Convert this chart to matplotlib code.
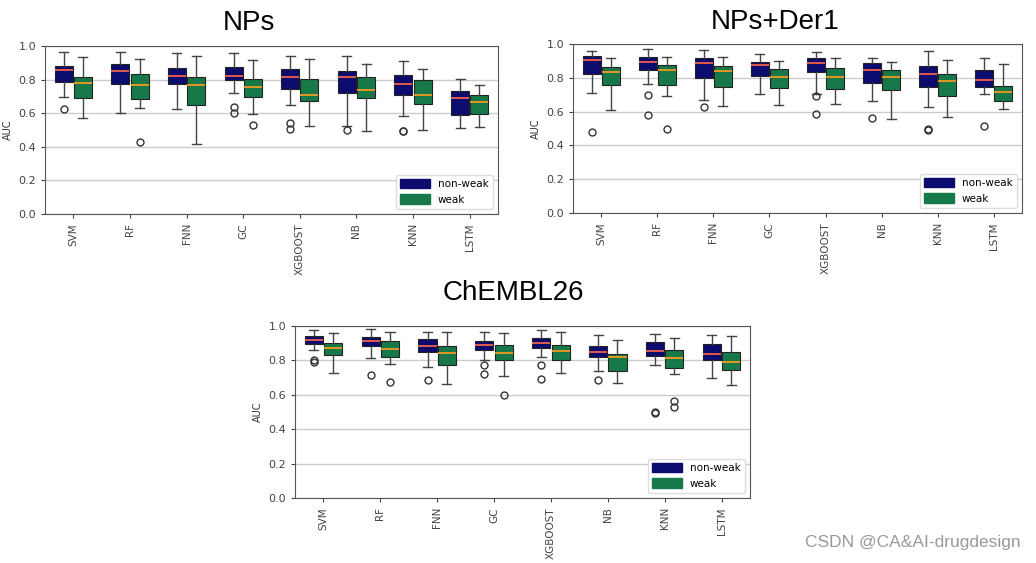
import matplotlib
matplotlib.use("Agg")
import matplotlib.pyplot as plt
from matplotlib.patches import Patch

models = ["SVM", "RF", "FNN", "GC", "XGBOOST", "NB", "KNN", "LSTM"]
groups = ["non-weak", "weak"]
colors = ["#0c0c6e", "#17794a"]

# box stats per model: [whisker low, q1, median, q3, whisker high]
nps_nonweak = [[0.694, 0.787, 0.856, 0.879, 0.964],
               [0.603, 0.771, 0.852, 0.891, 0.964],
               [0.626, 0.771, 0.820, 0.870, 0.958],
               [0.723, 0.800, 0.824, 0.874, 0.958],
               [0.646, 0.745, 0.816, 0.866, 0.941],
               [0.526, 0.723, 0.818, 0.854, 0.941],
               [0.583, 0.708, 0.775, 0.826, 0.913],
               [0.514, 0.591, 0.692, 0.731, 0.804]]
nps_weak = [[0.573, 0.692, 0.777, 0.814, 0.935],
            [0.628, 0.682, 0.765, 0.836, 0.925],
            [0.417, 0.650, 0.765, 0.818, 0.941],
            [0.595, 0.696, 0.757, 0.804, 0.915],
            [0.526, 0.672, 0.706, 0.802, 0.923],
            [0.494, 0.688, 0.739, 0.816, 0.895],
            [0.500, 0.654, 0.711, 0.796, 0.866],
            [0.520, 0.597, 0.666, 0.706, 0.767]]
nps_nonweak_fliers = [[0.623], [], [], [0.638, 0.599], [0.540, 0.504], [0.498], [0.496, 0.492], []]
nps_weak_fliers = [[], [0.431], [], [0.532], [], [], [], []]

der1_nonweak = [[0.712, 0.824, 0.903, 0.927, 0.961],
                [0.765, 0.844, 0.893, 0.923, 0.972],
                [0.671, 0.801, 0.888, 0.915, 0.966],
                [0.704, 0.813, 0.874, 0.895, 0.941],
                [0.706, 0.832, 0.886, 0.919, 0.951],
                [0.665, 0.771, 0.848, 0.888, 0.917],
                [0.627, 0.748, 0.824, 0.870, 0.957],
                [0.706, 0.746, 0.787, 0.848, 0.919]]
der1_weak = [[0.611, 0.759, 0.836, 0.866, 0.917],
             [0.694, 0.759, 0.844, 0.874, 0.921],
             [0.635, 0.746, 0.838, 0.870, 0.925],
             [0.641, 0.740, 0.803, 0.852, 0.897],
             [0.645, 0.734, 0.807, 0.856, 0.917],
             [0.556, 0.726, 0.803, 0.846, 0.893],
             [0.566, 0.692, 0.783, 0.824, 0.907],
             [0.617, 0.663, 0.716, 0.753, 0.882]]
der1_nonweak_fliers = [[0.477], [0.700, 0.580], [0.625], [], [0.690, 0.584], [0.560], [0.495, 0.491], [0.517]]
der1_weak_fliers = [[], [0.497], [], [], [], [], [], []]

chembl_nonweak = [[0.860, 0.893, 0.917, 0.944, 0.977],
                  [0.814, 0.886, 0.913, 0.938, 0.981],
                  [0.764, 0.851, 0.882, 0.924, 0.967],
                  [0.800, 0.862, 0.891, 0.911, 0.967],
                  [0.818, 0.874, 0.903, 0.930, 0.977],
                  [0.740, 0.818, 0.849, 0.882, 0.946],
                  [0.775, 0.824, 0.857, 0.905, 0.953],
                  [0.698, 0.800, 0.839, 0.893, 0.946]]
chembl_weak = [[0.725, 0.831, 0.870, 0.903, 0.961],
               [0.777, 0.822, 0.868, 0.913, 0.967],
               [0.665, 0.775, 0.841, 0.882, 0.967],
               [0.707, 0.800, 0.841, 0.890, 0.959],
               [0.725, 0.804, 0.857, 0.890, 0.967],
               [0.667, 0.738, 0.818, 0.839, 0.921],
               [0.719, 0.758, 0.816, 0.862, 0.930],
               [0.659, 0.742, 0.793, 0.851, 0.942]]
chembl_nonweak_fliers = [[0.804, 0.793], [0.717], [0.686], [0.773, 0.721], [0.771, 0.692], [0.688], [0.498, 0.494], []]
chembl_weak_fliers = [[], [0.676], [], [0.599], [], [], [0.562, 0.527], []]


def make_stats(rows, fliers):
    out = []
    for (lo, q1, med, q3, hi), fl in zip(rows, fliers):
        out.append(dict(whislo=lo, q1=q1, med=med, q3=q3, whishi=hi, fliers=fl))
    return out


def draw_panel(ax, nonweak, weak, nonweak_fl, weak_fl):
    for k, (rows, fl) in enumerate([(nonweak, nonweak_fl), (weak, weak_fl)]):
        offset = -0.17 if k == 0 else 0.17
        pos = [i + offset for i in range(len(models))]
        med_col = "#f0604a" if k == 0 else "#f39a1e"
        ax.bxp(make_stats(rows, fl), positions=pos, widths=0.32, patch_artist=True,
               boxprops=dict(facecolor=colors[k], edgecolor="#222222", linewidth=0.8),
               medianprops=dict(color=med_col, linewidth=1.3),
               whiskerprops=dict(color="#444444", linewidth=1.0),
               capprops=dict(color="#444444", linewidth=1.0),
               flierprops=dict(marker="o", markerfacecolor="none", markeredgecolor="#333333",
                               markersize=5, markeredgewidth=1.0),
               zorder=3)
    ax.set_xlim(-0.5, len(models) - 0.5)
    ax.set_ylim(0, 1.0)
    ax.set_yticks([0.0, 0.2, 0.4, 0.6, 0.8, 1.0])
    ax.set_yticklabels(["0.0", "0.2", "0.4", "0.6", "0.8", "1.0"])
    ax.set_xticks(range(len(models)))
    ax.set_xticklabels(models, rotation=90)
    ax.tick_params(axis="y", labelsize=8, colors="#444444", length=3)
    ax.tick_params(axis="x", labelsize=7.5, colors="#444444", length=3)
    ax.yaxis.grid(True, color="#cccccc", linewidth=1.0, zorder=0)
    ax.set_axisbelow(True)
    for s in ax.spines.values():
        s.set_color("#555555")
    ax.set_ylabel("AUC", fontsize=7, color="#333333")
    handles = [Patch(facecolor=colors[0], edgecolor=colors[0]),
               Patch(facecolor=colors[1], edgecolor=colors[1])]
    ax.legend(handles, groups, loc="lower right", fontsize=7.5, handlelength=2.8,
              handleheight=1.0, framealpha=1.0, edgecolor="#dddddd")


W, H = 1036, 563
fig = plt.figure(figsize=(W / 100, H / 100), dpi=100)


def add_axes_px(x0, y0, x1, y1):
    return fig.add_axes([x0 / W, 1 - y1 / H, (x1 - x0) / W, (y1 - y0) / H])


ax1 = add_axes_px(45, 46, 498, 214)
ax2 = add_axes_px(573, 44, 1022, 213)
ax3 = add_axes_px(295, 326, 750, 498)

draw_panel(ax1, nps_nonweak, nps_weak, nps_nonweak_fliers, nps_weak_fliers)
draw_panel(ax2, der1_nonweak, der1_weak, der1_nonweak_fliers, der1_weak_fliers)
draw_panel(ax3, chembl_nonweak, chembl_weak, chembl_nonweak_fliers, chembl_weak_fliers)

title_font = ["Liberation Sans", "DejaVu Sans"]
fig.text(249 / W, 1 - 23 / H, "NPs", fontsize=20, family=title_font, ha="center", va="center")
fig.text(775 / W, 1 - 22 / H, "NPs+Der1", fontsize=20, family=title_font, ha="center", va="center")
fig.text(513 / W, 1 - 293 / H, "ChEMBL26", fontsize=20, family=title_font, ha="center", va="center")
fig.text(1021 / W, 1 - 543 / H, "CSDN @CA&AI-drugdesign", fontsize=12.5, family=title_font,
         color="#999999", ha="right", va="center")

fig.savefig("out.png", dpi=100)
